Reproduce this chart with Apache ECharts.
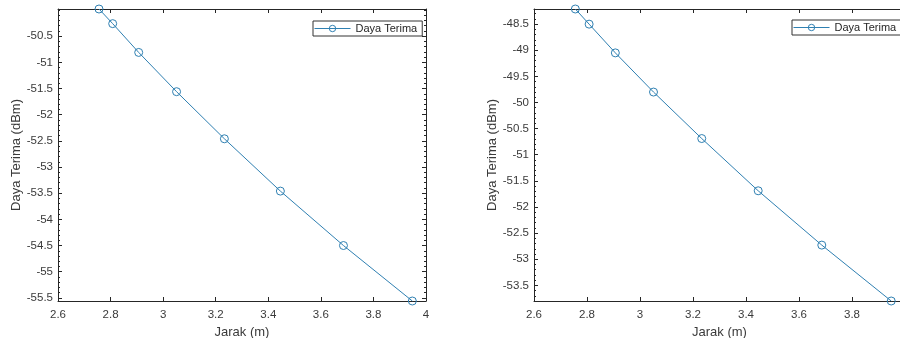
<!DOCTYPE html>
<html>
<head>
<meta charset="utf-8">
<script src="https://cdn.jsdelivr.net/npm/echarts@6/dist/echarts.min.js"></script>
<style>
  html, body { margin: 0; padding: 0; background: #fff; }
  #chart { width: 900px; height: 338px; }
</style>
</head>
<body>
<div id="chart"></div>
<script>
// data
const jarak = [2.756, 2.808, 2.907, 3.051, 3.233, 3.446, 3.686, 3.948];
const dayaKiri = [-49.98, -50.26, -50.81, -51.56, -52.46, -53.46, -54.50, -55.56];
const dayaKanan = [-48.21, -48.50, -49.05, -49.80, -50.69, -51.69, -52.73, -53.80];

const xTicks = [2.6, 2.8, 3, 3.2, 3.4, 3.6, 3.8, 4];
const yTicksKiri = [-55.5, -55, -54.5, -54, -53.5, -53, -52.5, -52, -51.5, -51, -50.5];
const yTicksKanan = [-53.5, -53, -52.5, -52, -51.5, -51, -50.5, -50, -49.5, -49, -48.5];

const lineColor = "#2f80b2";
const axisColor = "#262626";
const textColor = "#3a3a3a";
const fontFamily = "'Liberation Sans', Arial, sans-serif";

const chart = echarts.init(document.getElementById("chart"));

function minorTicks(min, max, majors) {
  const out = [];
  for (let v = Math.ceil(min * 10); v <= Math.floor(max * 10); v++) {
    const t = v / 10;
    if (!majors.includes(t)) out.push(t);
  }
  return out;
}

function yAxesFor(gridIndex, min, max, majors) {
  const minors = minorTicks(min, max, majors);
  const base = {
    type: "value",
    gridIndex,
    min,
    max,
    splitLine: { show: false },
  };
  return [
    {
      ...base,
      position: "left",
      name: "Daya Terima (dBm)",
      nameLocation: "middle",
      nameRotate: 90,
      nameGap: 35,
      nameTextStyle: { fontSize: 13, color: textColor, fontFamily },
      axisLine: { show: true, lineStyle: { color: axisColor, width: 1 } },
      axisTick: { inside: true, length: 4, customValues: majors, lineStyle: { color: axisColor } },
      axisLabel: { customValues: majors, margin: 5, fontSize: 11.5, color: textColor, fontFamily },
    },
    {
      ...base,
      position: "left",
      axisLine: { show: false },
      axisTick: { inside: true, length: 2, customValues: minors, lineStyle: { color: axisColor } },
      axisLabel: { show: false },
    },
    {
      ...base,
      position: "right",
      axisLine: { show: true, lineStyle: { color: axisColor, width: 1 } },
      axisTick: { inside: true, length: 4, customValues: majors, lineStyle: { color: axisColor } },
      axisLabel: { show: false },
    },
    {
      ...base,
      position: "right",
      axisLine: { show: false },
      axisTick: { inside: true, length: 2, customValues: minors, lineStyle: { color: axisColor } },
      axisLabel: { show: false },
    },
  ];
}

function xAxesFor(gridIndex) {
  const base = {
    type: "value",
    gridIndex,
    min: 2.6,
    max: 4,
    splitLine: { show: false },
    axisLine: { show: true, onZero: false, lineStyle: { color: axisColor, width: 1 } },
  };
  return [
    {
      ...base,
      position: "bottom",
      name: "Jarak (m)",
      nameLocation: "middle",
      nameGap: 24,
      nameTextStyle: { fontSize: 13, color: textColor, fontFamily },
      axisTick: { inside: true, length: 4, customValues: xTicks, lineStyle: { color: axisColor } },
      axisLabel: { customValues: xTicks, margin: 8, fontSize: 11.5, color: textColor, fontFamily },
    },
    {
      ...base,
      position: "top",
      axisTick: { inside: true, length: 4, customValues: xTicks, lineStyle: { color: axisColor } },
      axisLabel: { show: false },
    },
  ];
}

function lineSeries(xAxisIndex, yAxisIndex, values) {
  return {
    type: "line",
    name: "Daya Terima",
    xAxisIndex,
    yAxisIndex,
    data: jarak.map((x, i) => [x, values[i]]),
    symbol: "circle",
    symbolSize: 8,
    clip: false,
    lineStyle: { color: lineColor, width: 1 },
    itemStyle: { color: "rgba(255,255,255,0)", borderColor: lineColor, borderWidth: 1 },
    emphasis: { disabled: true },
  };
}

const legendBase = {
  data: ["Daya Terima"],
  orient: "horizontal",
  itemWidth: 36,
  itemHeight: 8,
  itemGap: 4,
  padding: [2, 5, 2, 1],
  borderColor: "#333",
  borderWidth: 1,
  backgroundColor: "#fff",
  lineStyle: { color: lineColor, width: 1 },
  itemStyle: { color: "rgba(255,255,255,0)", borderColor: lineColor, borderWidth: 1 },
  textStyle: { fontSize: 11, color: axisColor, fontFamily },
};

const option = {
  animation: false,
  backgroundColor: "#fff",
  grid: [
    { left: 58, top: 9, width: 368, height: 292, outerBoundsMode: "none" },
    { left: 534, top: 9, width: 371, height: 292, outerBoundsMode: "none" },
  ],
  xAxis: [...xAxesFor(0), ...xAxesFor(1)],
  yAxis: [
    ...yAxesFor(0, -55.56, -49.98, yTicksKiri),
    ...yAxesFor(1, -53.8, -48.21, yTicksKanan),
  ],
  legend: [
    { ...legendBase, left: 313, top: 21 },
    { ...legendBase, left: 792, top: 20 },
  ],
  series: [lineSeries(0, 0, dayaKiri), lineSeries(2, 4, dayaKanan)],
};

chart.setOption(option);
</script>
</body>
</html>
